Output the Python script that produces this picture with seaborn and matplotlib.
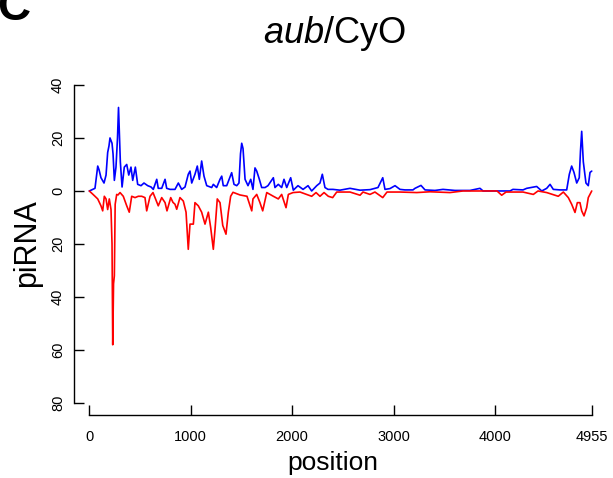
import numpy as np
import pandas as pd
import matplotlib
matplotlib.use("Agg")
import matplotlib.pyplot as plt
import seaborn as sns

# sense piRNAs (drawn above zero)
sense_pos = [0, 27, 56, 83, 96, 115, 145, 165, 181, 194, 204, 214, 224, 234, 247, 263,
             278, 288, 298, 306, 323, 345, 369, 389, 411, 428, 454, 477, 510, 539, 576,
             609, 631, 665, 680, 714, 747, 763, 796, 845, 878, 911, 944, 976, 993, 1010,
             1042, 1065, 1085, 1108, 1131, 1158, 1207, 1223, 1256, 1289, 1306, 1321, 1355,
             1404, 1427, 1454, 1476, 1491, 1503, 1516, 1536, 1565, 1592, 1614, 1634, 1651,
             1677, 1700, 1733, 1762, 1815, 1831, 1864, 1897, 1920, 1947, 1986, 2012, 2058,
             2108, 2157, 2193, 2243, 2275, 2298, 2324, 2354, 2403, 2472, 2571, 2670, 2768,
             2847, 2894, 2916, 2965, 3015, 3064, 3113, 3192, 3212, 3271, 3311, 3409, 3488,
             3606, 3754, 3853, 3883, 4149, 4178, 4277, 4314, 4412, 4462, 4511, 4544, 4576,
             4642, 4708, 4734, 4757, 4780, 4807, 4832, 4844, 4856, 4872, 4898, 4921, 4938,
             4955]
sense_val = [0, 0.5, 1, 9.4, 8, 5, 3, 6, 14.5, 17, 20, 19, 18, 14, 4, 9,
             20, 31.5, 20, 11, 1.5, 9, 10, 6, 9, 4, 9, 2.5, 2, 3, 2,
             1.5, 0.6, 4.4, 1, 1, 4.4, 1, 0.6, 0.6, 3, 0.6, 1.5, 6.3, 7.5, 3,
             6.3, 9.4, 4.4, 11.3, 5.6, 2, 1.3, 2.5, 1.3, 4.4, 5.6, 2, 2,
             6.9, 2.5, 2, 3, 14, 18, 16, 4.4, 2, 4.4, 0.6, 8.7, 7.5,
             4.4, 1.3, 1.3, 2, 5, 1.3, 2.5, 1.3, 4.4, 1.3, 5, 0.3, 2,
             0.6, 2, 0, 2, 3, 6.3, 1.3, 0.6, 0.6, 0.3, 1, 0.3, 0.5,
             1.3, 5, 0.6, 0.9, 2, 0.6, 0.4, 0.4, 1, 2.1, 0.4, 0.2, 0.6,
             0.2, 0.2, 1, 0, 0, 0.6, 0.4, 1, 1.7, 0, 1, 2.5, 0.6,
             0.4, 0.4, 6.3, 9.4, 7, 3, 5, 15, 22.5, 11, 3, 2, 7,
             7.5]

# antisense piRNAs (drawn below zero)
anti_pos = [0, 34, 56, 83, 115, 132, 148, 165, 181, 197, 214, 224, 231, 239, 247, 255,
            270, 283, 303, 335, 369, 394, 418, 451, 483, 517, 549, 566, 599, 628, 648,
            680, 714, 747, 766, 803, 825, 845, 862, 894, 927, 954, 976, 993, 1026, 1042,
            1075, 1108, 1141, 1174, 1197, 1223, 1240, 1262, 1289, 1316, 1348, 1371, 1394,
            1417, 1486, 1555, 1602, 1614, 1651, 1683, 1710, 1750, 1815, 1864, 1897, 1940,
            1963, 2009, 2078, 2193, 2236, 2275, 2315, 2357, 2400, 2440, 2571, 2670, 2699,
            2768, 2817, 2894, 2936, 3064, 3229, 3360, 3557, 3685, 4021, 4067, 4110, 4277,
            4379, 4425, 4511, 4625, 4675, 4724, 4757, 4790, 4813, 4839, 4856, 4879, 4905,
            4921, 4955]
anti_val = [0, 1.2, 2, 3, 5.6, 7.5, 2, 3, 7, 3, 7, 20, 58, 35, 32, 5,
            1.3, 1.5, 0.6, 2, 5.6, 8, 2, 2.5, 2, 2, 2.5, 7.5, 2, 0.6, 2.5,
            5.6, 2.5, 4.4, 7.5, 2.5, 4.3, 5, 6.9, 2.5, 3.8, 8, 22, 12.5, 12.5, 4.4,
            5.6, 8, 12.5, 8, 13.8, 22, 14.4, 3, 4.4, 13, 16.3, 8, 2,
            0.5, 1.5, 2, 7.5, 3, 1.3, 4.4, 7.5, 0.6, 2, 3, 1.3, 6.3,
            1.3, 0.6, 0.4, 2, 0.6, 2, 0.6, 2, 2.5, 0.4, 0.4, 1.6, 0.4,
            1.3, 0.4, 2.5, 0.4, 0.4, 0.6, 0.3, 0.6, 0, 0, 1.6, 0.4, 0.4,
            1.3, 0, 0.6, 2, 0.4, 2.5, 5, 8.1, 4.4, 4.4, 7.5, 9.4, 6.3,
            2.5, 0]

y_ticks = [40, 20, 0, -20, -40, -60, -80]
x_ticks = [0, 1000, 2000, 3000, 4000, 4955]

sns.set_style("white")
plt.rcParams['font.family'] = ['Liberation Sans', 'DejaVu Sans']
plt.rcParams['text.color'] = 'black'
plt.rcParams['axes.labelcolor'] = 'black'
plt.rcParams['mathtext.fontset'] = 'custom'
plt.rcParams['mathtext.it'] = 'Liberation Sans:italic'
plt.rcParams['mathtext.rm'] = 'Liberation Sans'

sense = pd.DataFrame({'position': sense_pos, 'piRNA': sense_val})
anti = pd.DataFrame({'position': anti_pos, 'piRNA': -np.array(anti_val)})

fig = plt.figure(figsize=(6.13, 4.78), dpi=100)
ax = fig.add_axes([74 / 613, 63 / 478, 530 / 613, 342 / 478])

sns.lineplot(data=sense, x='position', y='piRNA', color='#0000FF', linewidth=1.2, ax=ax)
sns.lineplot(data=anti, x='position', y='piRNA', color='#FF0000', linewidth=1.2, ax=ax)

ax.set_xlim(-151, 5076)
ax.set_ylim(-84.5, 44.5)
sns.despine(ax=ax)
ax.spines['left'].set_bounds(-80, 40)
ax.spines['bottom'].set_bounds(0, 4955)
for s in ('left', 'bottom'):
    ax.spines[s].set_linewidth(1.0)
    ax.spines[s].set_color('black')

ax.set_xticks(x_ticks)
ax.set_xticklabels([str(t) for t in x_ticks])
ax.set_yticks(y_ticks)
ax.set_yticklabels([str(abs(t)) for t in y_ticks], rotation=90, va='center')
ax.tick_params(axis='both', direction='in', length=7, width=1.0, colors='black',
               labelsize=10.5, bottom=True, left=True)
ax.tick_params(axis='x', pad=11)
ax.tick_params(axis='y', pad=6.5)

ax.set_xlabel('position', fontsize=19)
ax.xaxis.set_label_coords((333 - 74) / 530, -(470 - 415) / 342)
ax.xaxis.label.set_va('baseline')
ax.set_ylabel('piRNA', fontsize=22)
ax.yaxis.set_label_coords((27 - 74) / 530, (415 - 243) / 342)
ax.yaxis.label.set_va('center')

fig.text(334 / 613, 1 - 43 / 478, r'$\mathit{aub}$/CyO', fontsize=26,
         ha='center', va='baseline')
# panel letter, partly cut off at the top edge as in the original figure
fig.text(-0.005, 1 - 20 / 478, 'C', fontsize=33, fontweight='bold',
         ha='left', va='baseline')

fig.savefig('out.png', dpi=100)
